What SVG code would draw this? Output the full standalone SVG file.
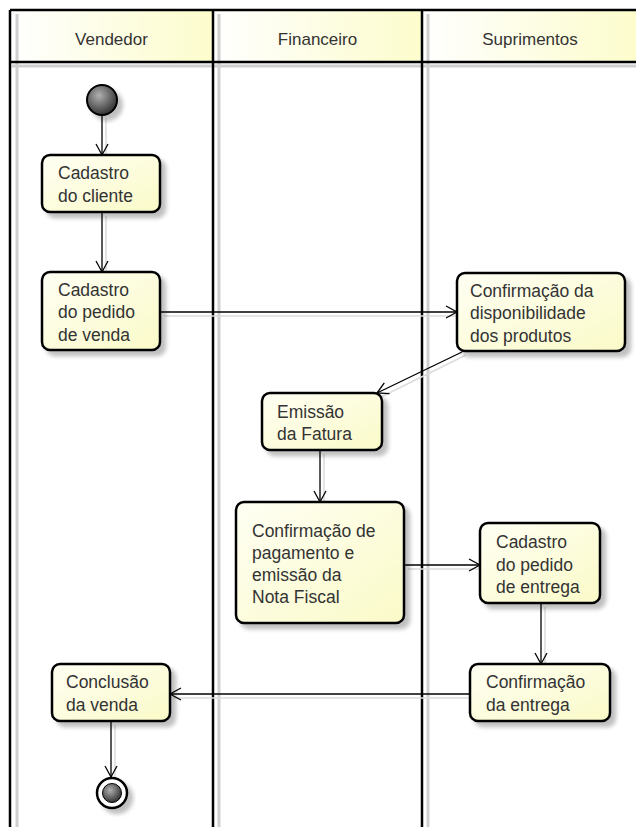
<svg xmlns="http://www.w3.org/2000/svg" width="636" height="827" viewBox="0 0 636 827">
<style>
.lane{fill:none;stroke:#000;stroke-width:2.5}
.lshadow{stroke:#cfcfcf;stroke-width:3;fill:none}
.hdr{font-family:"Liberation Sans",Arial,sans-serif;font-size:17px;fill:#333;text-anchor:middle}
.box{fill:url(#boxg);stroke:#000;stroke-width:2.5;filter:url(#sh)}
.t{font-family:"Liberation Sans",Arial,sans-serif;font-size:17.5px;fill:#333}
.c{fill:none;stroke:#000;stroke-width:1.3;marker-end:url(#ah)}
.cs{fill:none;stroke:#dcdcdc;stroke-width:1.5}
</style>
<defs>
<linearGradient id="hdrg" x1="0" y1="0" x2="1" y2="0">
<stop offset="0" stop-color="#ffffff"/>
<stop offset="1" stop-color="#fcfccc"/>
</linearGradient>
<linearGradient id="boxg" x1="0" y1="0" x2="1" y2="1">
<stop offset="0" stop-color="#fffff4"/>
<stop offset="1" stop-color="#fafac8"/>
</linearGradient>
<radialGradient id="ball" cx="0.4" cy="0.35" r="0.7">
<stop offset="0" stop-color="#b0b0b0"/>
<stop offset="1" stop-color="#2a2a2a"/>
</radialGradient>
<filter id="sh" x="-20%" y="-20%" width="150%" height="150%">
<feGaussianBlur in="SourceAlpha" stdDeviation="2"/>
<feOffset dx="5" dy="5" result="b"/>
<feComponentTransfer><feFuncA type="linear" slope="0.25"/></feComponentTransfer>
<feMerge><feMergeNode/><feMergeNode in="SourceGraphic"/></feMerge>
</filter>
<marker id="ah" markerWidth="14" markerHeight="14" refX="12" refY="7" orient="auto" markerUnits="userSpaceOnUse">
<path d="M1,1 L12,7 L1,13" fill="none" stroke="#000" stroke-width="1.3"/>
</marker>
</defs>
<rect width="636" height="827" fill="#fff"/>
<g id="lanes">
<rect x="10" y="10" width="203" height="52" fill="url(#hdrg)"/>
<rect x="213" y="10" width="209" height="52" fill="url(#hdrg)"/>
<rect x="422" y="10" width="216" height="52" fill="url(#hdrg)"/>
<path class="lshadow" d="M17,14 V827 M219,14 V827 M428,14 V827 M12,66 H636"/>
<path class="lane" d="M10,10 H638 M10,62 H638 M10,10 V827 M213,10 V827 M422,10 V827"/>
<text class="hdr" x="111.5" y="45">Vendedor</text>
<text class="hdr" x="317.5" y="45">Financeiro</text>
<text class="hdr" x="530" y="45">Suprimentos</text>
</g>
<g id="connectors">
<path class="cs" d="M106,118 V158 M106,216 V275 M164,316 H460 M466,355 L381,397 M324,454 V505 M408,569 H483 M545,607 V667 M474,698 H173 M115,725 V780"/>
<path class="c" d="M102,116 V155"/>
<path class="c" d="M102,212 V272"/>
<path class="c" d="M160,312 H457"/>
<path class="c" d="M462,352 L377,393"/>
<path class="c" d="M320,450 V502"/>
<path class="c" d="M404,565 H480"/>
<path class="c" d="M541,603 V664"/>
<path class="c" d="M470,694 H170"/>
<path class="c" d="M111,721 V777"/>
</g>
<g id="start">
<circle cx="102" cy="100" r="15" fill="url(#ball)" stroke="#000" stroke-width="2" filter="url(#sh)"/>
</g>
<g id="cadastro-cliente">
<rect class="box" x="42" y="155" width="118" height="57" rx="8"/>
<text class="t" x="58" y="179">Cadastro</text>
<text class="t" x="58" y="202">do cliente</text>
</g>
<g id="cadastro-pedido-venda">
<rect class="box" x="42" y="272" width="118" height="78" rx="8"/>
<text class="t" x="58" y="296">Cadastro</text>
<text class="t" x="58" y="318">do pedido</text>
<text class="t" x="58" y="341">de venda</text>
</g>
<g id="confirmacao-disponibilidade">
<rect class="box" x="457" y="273" width="168" height="78" rx="8"/>
<text class="t" x="470" y="297">Confirmação da</text>
<text class="t" x="470" y="319">disponibilidade</text>
<text class="t" x="470" y="342">dos produtos</text>
</g>
<g id="emissao-fatura">
<rect class="box" x="262" y="393" width="120" height="57" rx="8"/>
<text class="t" x="277" y="418">Emissão</text>
<text class="t" x="277" y="440">da Fatura</text>
</g>
<g id="confirmacao-pagamento">
<rect class="box" x="236" y="502" width="168" height="121" rx="8"/>
<text class="t" x="252" y="537">Confirmação de</text>
<text class="t" x="252" y="559">pagamento e</text>
<text class="t" x="252" y="581">emissão da</text>
<text class="t" x="252" y="603">Nota Fiscal</text>
</g>
<g id="cadastro-pedido-entrega">
<rect class="box" x="480" y="523" width="120" height="80" rx="8"/>
<text class="t" x="496" y="548">Cadastro</text>
<text class="t" x="496" y="571">do pedido</text>
<text class="t" x="496" y="593">de entrega</text>
</g>
<g id="confirmacao-entrega">
<rect class="box" x="470" y="664" width="140" height="57" rx="8"/>
<text class="t" x="486" y="688">Confirmação</text>
<text class="t" x="486" y="711">da entrega</text>
</g>
<g id="conclusao-venda">
<rect class="box" x="52" y="664" width="118" height="57" rx="8"/>
<text class="t" x="66" y="688">Conclusão</text>
<text class="t" x="66" y="711">da venda</text>
</g>
<g id="end">
<circle cx="112" cy="793" r="15" fill="#fff" stroke="#000" stroke-width="2.5" filter="url(#sh)"/>
<circle cx="112" cy="793" r="9.5" fill="url(#ball)" stroke="#000" stroke-width="1"/>
</g>
</svg>
